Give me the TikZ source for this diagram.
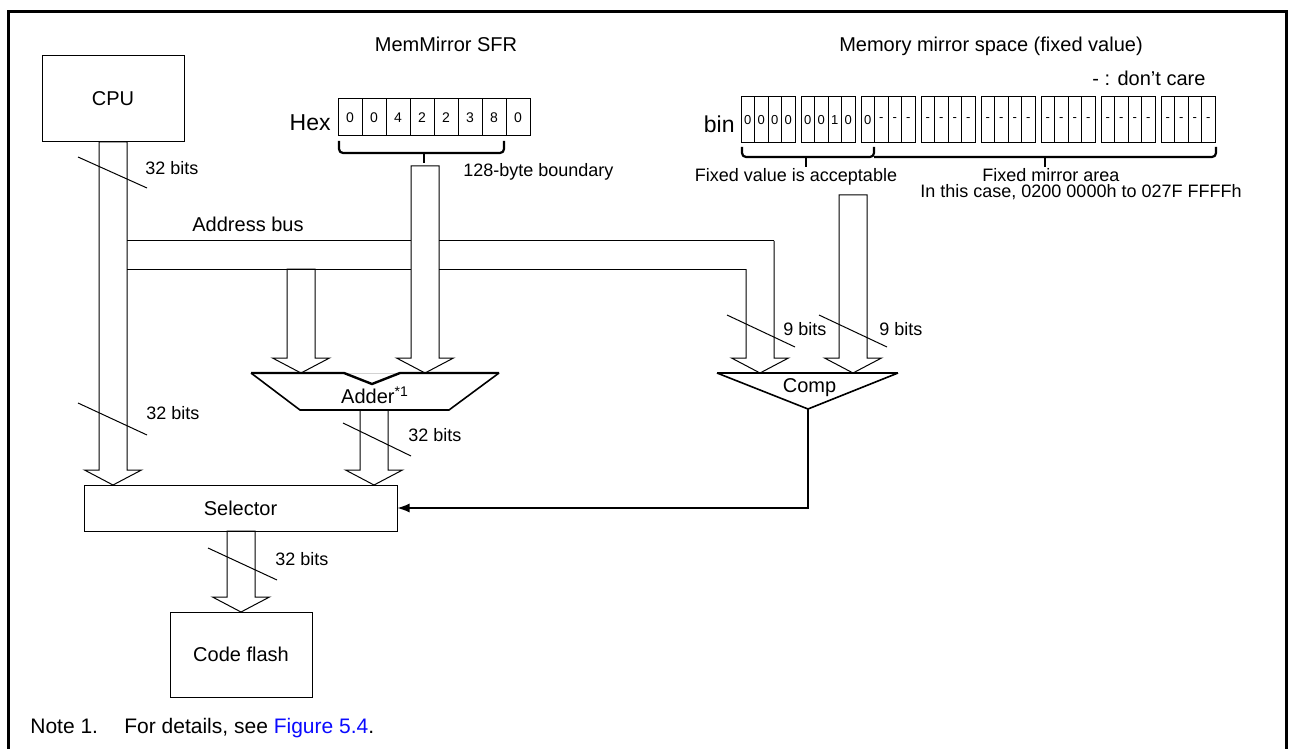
\documentclass[tikz,border=0pt]{standalone}
\usepackage{fontspec}
\setmainfont{Liberation Sans}
\usetikzlibrary{arrows.meta}
\newcommand\fsz[1]{\fontsize{#1}{#1}\selectfont}
\definecolor{lnk}{RGB}{10,10,255}
\newcommand\busarr[3]{\draw[bus] ({#1-14},#2) -- ({#1-14},{#3-15}) -- ({#1-28.5},{#3-15}) -- (#1,#3) -- ({#1+28.5},{#3-15}) -- ({#1+14},{#3-15}) -- ({#1+14},#2) -- cycle;}
\begin{document}
\begin{tikzpicture}[x=0.5pt,y=-0.5pt,
  box/.style={draw, line width=0.5pt, inner sep=0pt, font=\fsz{10}},
  bus/.style={line width=0.5pt},
  lbl/.style={inner sep=0pt, font=\fsz{9}},
  cell/.style={draw, line width=0.5pt, minimum width=12pt, minimum height=18.5pt, inner sep=0pt, font=\fsz{7}},
  bcell/.style={draw, line width=0.5pt, minimum width=6.75pt, minimum height=23pt, inner sep=0pt, font=\fsz{6.5}},
  brace/.style={line width=1.1pt, rounded corners=2pt},
  ttl/.style={inner sep=0pt, font=\fsz{10}, anchor=base}]
\useasboundingbox (0,0) rectangle (1292,749);
% frame
\draw[line width=1.5pt] (8,749) -- (8,11.5) -- (1286.5,11.5) -- (1286.5,749);
% boxes
\node[box, minimum width=71pt, minimum height=43pt] (cpu) at (113,99) {CPU};
\node[box, minimum width=156.5pt, minimum height=23pt] (sel) at (240.5,508) {Selector};
\node[box, minimum width=71pt, minimum height=42.5pt] (flash) at (241,654.5) {Code flash};
% titles
\node[ttl] (mmt) at (446,52) {MemMirror SFR};
\node[ttl] (mst) at (991,52) {Memory mirror space (fixed value)};
\node[inner sep=0pt, font=\fsz{10}, anchor=base west] (dc) at (1092,86) {- : don’t care};
% Hex register
\node[inner sep=0pt, font=\fsz{11.5}, anchor=base east] (hexl) at (331,131) {Hex};
\foreach \d [count=\i] in {0,0,4,2,2,3,8,0} \node[cell] (h\i) at ({338+24*\i-12},117.5) {\d};
\draw[brace] (339,141) -- (339,153) -- (504,153) -- (504,141);
\draw[line width=1.1pt] (424,153) -- (424,163);
\node[lbl, anchor=west] (bnd) at (463,172) {128-byte boundary};
% bin register
\node[inner sep=0pt, font=\fsz{11.5}, anchor=base east] (binl) at (735,133) {bin};
\foreach \v [count=\n from 0] in {0,0,0,0,0,0,1,0,0,-,-,-,-,-,-,-,-,-,-,-,-,-,-,-,-,-,-,-,-,-,-,-} {
  \pgfmathsetmacro\xx{741+60*floor(\n/4)+13.5*mod(\n,4)+6.75}
  \node[bcell] (b\n) at (\xx,120) {\v};
}
\draw[brace] (742,147) -- (742,157) -- (874,157) -- (874,147);
\draw[brace] (874,157) -- (1216,157) -- (1216,147);
\draw[line width=1.1pt] (806,157) -- (806,167);
\draw[line width=1.1pt] (1045,157) -- (1045,167);
\node[lbl] (fva) at (796,177) {Fixed value is acceptable};
\node[lbl] (fma) at (1051,175) {Fixed mirror area};
\node[lbl] (itc) at (1081,192) {In this case, 0200 0000h to 027F FFFFh};
% address bus
\draw[bus] (127,241) -- (411,241) (439,241) -- (774,241) (127,269) -- (411,269) (439,269) -- (746,269);
\node[inner sep=0pt, font=\fsz{10}, anchor=west] (ab) at (192,224) {Address bus};
% bus arrows
\busarr{113}{142}{485}
\busarr{301}{269}{373}
\busarr{425}{166}{373}
\busarr{853}{195}{373}
\busarr{374}{410}{485}
\busarr{241}{531}{612}
\draw[bus] (746,269) -- (746,358) -- (731.5,358) -- (760,373) -- (788.5,358) -- (774,358) -- (774,241);
% adder
\draw[line width=0.8pt] (251,373) -- (300,410) -- (449,410) -- (499,373);
\draw[gray!35, line width=0.4pt] (344,373) -- (400,373);
\draw[line width=1.2pt] (251,373) -- (344,373) -- (372,384) -- (400,373) -- (499,373);
\node[inner sep=0pt, font=\fsz{10}] (adder) at (375,395) {Adder\textsuperscript{*1}};
% comp
\draw[line width=0.8pt] (717,373) -- (808,409) -- (898,373);
\draw[line width=1.2pt] (717,373) -- (898,373);
\coordinate (compout) at (808,409);
\node[inner sep=0pt, font=\fsz{10}, anchor=base] (comp) at (809.5,392) {Comp};
\draw[line width=0.6pt, -{Latex[length=6pt,width=4.5pt]}] (compout) |- (sel.east);
% bit slashes
\draw[bus] (78,157) -- (147,188); \node[lbl, anchor=west] (l1) at (145,168) {32 bits};
\draw[bus] (78,403) -- (147,435); \node[lbl, anchor=west] (l2) at (146,413) {32 bits};
\draw[bus] (343,423) -- (411,456); \node[lbl, anchor=west] (l3) at (408,435) {32 bits};
\draw[bus] (208,548) -- (277,580); \node[lbl, anchor=west] (l4) at (275,559) {32 bits};
\draw[bus] (727,315) -- (795,347); \node[lbl, anchor=west] (l5) at (783,329) {9 bits};
\draw[bus] (819,315) -- (887,347); \node[lbl, anchor=west] (l6) at (879,329) {9 bits};
% note
\node[inner sep=0pt, font=\fsz{10.5}, anchor=base west] (note) at (30,733.5) {Note 1.};
\node[inner sep=0pt, font=\fsz{10.5}, anchor=base west] (notetxt) at (124,733.5) {For details, see \textcolor{lnk}{Figure 5.4}.};
\end{tikzpicture}
\end{document}
